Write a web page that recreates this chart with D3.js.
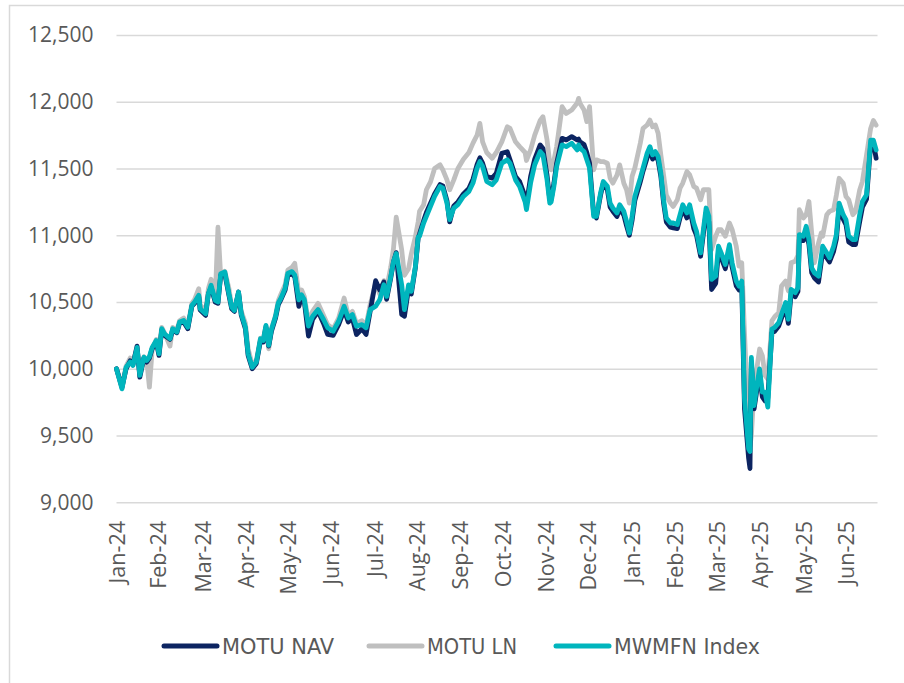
<!DOCTYPE html>
<html>
<head>
<meta charset="utf-8">
<script src="https://cdn.jsdelivr.net/npm/d3@7"></script>
<style>
  body { margin: 0; background: #fff; }
  svg { display: block; }
</style>
</head>
<body>
<div id="chart"></div>
<script>
;(function () {

    // Dates (x axis is one point per reading)
    var dates = [
        '2024-01-02','2024-01-06','2024-01-09','2024-01-12','2024-01-14','2024-01-17','2024-01-19','2024-01-22',
        '2024-01-24','2024-01-26','2024-01-28','2024-01-31','2024-02-02','2024-02-04','2024-02-06','2024-02-10',
        '2024-02-12','2024-02-15','2024-02-17','2024-02-20','2024-02-23','2024-02-26','2024-02-28','2024-03-02',
        '2024-03-03','2024-03-07','2024-03-09','2024-03-11','2024-03-14','2024-03-16','2024-03-18','2024-03-21',
        '2024-03-24','2024-03-26','2024-03-28','2024-03-31','2024-04-02','2024-04-05','2024-04-07','2024-04-10',
        '2024-04-13','2024-04-16','2024-04-18','2024-04-20','2024-04-22',
        '2024-04-24','2024-04-27','2024-04-29','2024-05-01','2024-05-04','2024-05-06','2024-05-09','2024-05-11',
        '2024-05-14','2024-05-16','2024-05-18','2024-05-21','2024-05-24','2024-05-28','2024-06-01','2024-06-04',
        '2024-06-08','2024-06-12','2024-06-16','2024-06-19','2024-06-22','2024-06-25','2024-06-29','2024-07-02',
        '2024-07-05','2024-07-09','2024-07-12','2024-07-15','2024-07-17','2024-07-20','2024-07-22','2024-07-24',
        '2024-07-28','2024-07-30','2024-08-02','2024-08-04','2024-08-07','2024-08-09',
        '2024-08-10','2024-08-13','2024-08-15','2024-08-18','2024-08-21','2024-08-25','2024-08-27','2024-08-30',
        '2024-09-01','2024-09-04','2024-09-07','2024-09-11','2024-09-15','2024-09-18','2024-09-21','2024-09-23',
        '2024-09-25','2024-09-28','2024-10-02','2024-10-05','2024-10-09','2024-10-13','2024-10-15','2024-10-19',
        '2024-10-22','2024-10-26','2024-10-27','2024-10-30','2024-11-02','2024-11-06','2024-11-08','2024-11-11',
        '2024-11-13','2024-11-14','2024-11-16','2024-11-18','2024-11-22','2024-11-25','2024-11-29','2024-12-03',
        '2024-12-04','2024-12-05','2024-12-08','2024-12-10','2024-12-12','2024-12-15','2024-12-17','2024-12-20',
        '2024-12-22','2024-12-25','2024-12-27','2024-12-29','2025-01-01','2025-01-03','2025-01-06','2025-01-08',
        '2025-01-10','2025-01-12','2025-01-14','2025-01-18','2025-01-20','2025-01-23','2025-01-25','2025-01-27',
        '2025-01-29','2025-01-31','2025-02-02','2025-02-04','2025-02-06','2025-02-09','2025-02-11','2025-02-14',
        '2025-02-16','2025-02-18','2025-02-21','2025-02-23','2025-02-26','2025-02-28','2025-03-03','2025-03-05',
        '2025-03-07','2025-03-09','2025-03-11','2025-03-14','2025-03-16','2025-03-18','2025-03-21','2025-03-24',
        '2025-03-26','2025-03-29','2025-03-31',
        '2025-04-02','2025-04-04','2025-04-07','2025-04-08','2025-04-09','2025-04-11','2025-04-13','2025-04-15',
        '2025-04-17','2025-04-19','2025-04-21','2025-04-24','2025-04-26','2025-04-29','2025-05-01','2025-05-04',
        '2025-05-06','2025-05-08','2025-05-11','2025-05-13','2025-05-14','2025-05-17','2025-05-19','2025-05-21',
        '2025-05-23','2025-05-25','2025-05-28','2025-05-30','2025-05-31','2025-06-03','2025-06-05','2025-06-08',
        '2025-06-10','2025-06-12','2025-06-15','2025-06-17','2025-06-19','2025-06-22','2025-06-24','2025-06-27',
        '2025-06-29','2025-07-02','2025-07-05','2025-07-07','2025-07-09'
    ];

    var motuNav = [
        10000, 9860,10000,10060,10030,10170, 9937,10080,10050,10080,10150,10200,10100,10290,10250,10220,
        10290,10270,10340,10350,10300,10470,10490,10540,10440,10400,10560,10610,10500,10490,10700,10710,
        10550,10450,10430,10575,10400,10300,10100,10000,10040,10210,10200,10310,10170,
        10280,10380,10480,10520,10590,10700,10710,10690,10468,10540,10500,10245,10370,10430,10340,10257,
        10250,10330,10440,10350,10380,10257,10300,10257,10430,10660,10590,10650,10520,10680,10800,10870,
        10406,10393,10600,10560,10760,10980,
        11010,11110,11170,11240,11310,11380,11370,11260,11100,11220,11250,11310,11350,11420,11530,11580,
        11540,11440,11428,11465,11614,11626,11565,11440,11403,11290,11230,11440,11570,11677,11650,11450,
        11266,11270,11390,11540,11726,11714,11739,11714,
        11720,11700,11680,11620,11540,11160,11130,11300,11390,11340,11210,11180,11140,11200,11150,11070,
        11000,11110,11260,11400,11480,11580,11640,11570,11600,11560,11440,11240,11100,11060,11055,11050,
        11130,11200,11130,11200,11050,11000,10843,11010,11170,11100,10594,10640,10870,10830,10750,10890,
        10760,10620,10590,
        10620, 9700, 9330, 9253,10050, 9700, 9840, 9960, 9790, 9760, 9780,10270,10280,10320,10380,10460,
        10340,10560,10540,10580,10970,10960,11030,10930,10720,10680,10650,10800,10880,10830,10800,10880,
        10970,11200,11120,11080,10950,10930,10930,11100,11210,11270,11680,11690,11577
    ];

    var motuLn = [
        10000, 9870,10020,10080,10060,10150, 9960,10090,10070, 9862,10140,10220,10150,10310,10270,10170,
        10310,10290,10360,10380,10320,10490,10520,10600,10480,10430,10600,10670,10520,11060,10690,10730,
        10600,10470,10440,10560,10430,10340,10150,10030,10060,10230,10220,10320,10150,
        10300,10400,10510,10560,10630,10740,10760,10790,10560,10590,10540,10350,10430,10490,10400,10330,
        10300,10380,10530,10400,10430,10340,10360,10320,10480,10640,10560,10660,10600,10760,10900,11136,
        10890,10700,10750,10860,10990,11100,
        11180,11229,11341,11400,11500,11528,11490,11415,11341,11415,11500,11570,11620,11690,11751,11838,
        11700,11620,11577,11620,11700,11813,11801,11700,11664,11620,11560,11640,11750,11860,11888,11714,
        11540,11490,11560,11664,11963,11913,11938,11990,
        12025,11988,11938,11851,11963,11490,11565,11552,11552,11540,11428,11390,11450,11527,11390,11341,
        11241,11440,11503,11689,11801,11826,11863,11813,11826,11764,11600,11450,11300,11241,11216,11266,
        11353,11391,11478,11453,11366,11353,11266,11341,11341,11341,10893,10993,11042,11042,10993,11092,
        11042,10918,10769,
        10794,10272, 9551, 9420, 9500, 9849,10000,10148,10098, 9949, 9924,10359,10390,10421,10620,10657,
        10583,10794,10806,10850,11191,11129,11154,11253,11017,10794,10943,11017,10993,11154,11179,11191,
        11300,11427,11390,11291,11266,11154,11179,11340,11403,11600,11800,11860,11825
    ];

    var mwmfnIndex = [
        10000, 9850,10012,10050,10025,10160, 9950,10087,10062,10090,10160,10212,10112,10300,10262,10225,
        10300,10275,10350,10362,10312,10475,10500,10550,10450,10412,10562,10625,10512,10500,10712,10725,
        10562,10462,10437,10575,10412,10312,10112,10012,10050,10225,10212,10325,10175,
        10294,10393,10493,10530,10604,10716,10728,10703,10517,10554,10517,10320,10393,10443,10369,10307,
        10282,10356,10468,10381,10406,10319,10331,10307,10443,10468,10517,10629,10542,10690,10802,10864,
        10629,10443,10629,10580,10765,10988,
        10993,11092,11142,11216,11291,11366,11353,11241,11117,11204,11229,11291,11328,11391,11503,11552,
        11515,11403,11378,11415,11540,11565,11540,11415,11366,11250,11192,11391,11528,11627,11602,11415,
        11241,11250,11366,11515,11677,11664,11689,11639,
        11677,11652,11627,11565,11503,11142,11142,11316,11403,11366,11241,11204,11167,11229,11179,11104,
        11017,11142,11291,11428,11503,11615,11664,11602,11627,11590,11465,11266,11129,11092,11092,11080,
        11154,11229,11167,11229,11092,11030,10868,11042,11204,11142,10669,10694,10918,10868,10781,10930,
        10793,10657,10619,
        10657, 9775, 9402, 9380,10085, 9725, 9874, 9999, 9825, 9825, 9713,10297,10309,10346,10409,10496,
        10371,10595,10570,10607,11005,10993,11067,10968,10756,10719,10694,10843,10918,10868,10831,10918,
        11005,11241,11154,11117,10993,10968,10968,11154,11253,11303,11713,11713,11639
    ];

    // Where the axis labels sit (the source axis labels every ~22 trading days)
    var tickDates = [
        '2024-01-02','2024-02-01','2024-03-05','2024-04-05','2024-05-06','2024-06-06','2024-07-08',
        '2024-08-08','2024-09-08','2024-10-10','2024-11-10','2024-12-11','2025-01-12','2025-02-12',
        '2025-03-15','2025-04-15','2025-05-17','2025-06-17'
    ];
    var xDomain = ['2024-01-02', '2025-07-10'];
    var yTicks = [9000, 9500, 10000, 10500, 11000, 11500, 12000, 12500];

    var seriesNames = ['MOTU NAV', 'MOTU LN', 'MWMFN Index'];
    var seriesColors = ['#0c2461', '#bfbfbf', '#00b5bd'];

    var W = 904, H = 683;
    var parse = d3.timeParse('%Y-%m-%d');
    var fmtTick = d3.timeFormat('%b-%y');
    var axisFont = '"Open Sans", "Liberation Sans", sans-serif';
    var legendFont = '"Liberation Sans Narrow", "DejaVu Sans Condensed", sans-serif';

    var svg = d3.select('#chart').append('svg')
        .attr('width', W)
        .attr('height', H);

    // outer chart border (only top and left are inside the crop)
    svg.append('rect')
        .attr('x', 9.5).attr('y', 5.5)
        .attr('width', W + 20).attr('height', H + 20)
        .attr('fill', 'none')
        .attr('stroke', '#d9d9d9')
        .attr('stroke-width', 1.5);

    var x = d3.scaleTime()
        .domain(xDomain.map(parse))
        .range([116.5, 877.5]);

    var y = d3.scaleLinear()
        .domain([9000, 12500])
        .range([502.3, 35]);

    // gridlines + y labels
    var yAxis = d3.axisLeft(y)
        .tickValues(yTicks)
        .tickSize(-(877.5 - 116.5))
        .tickPadding(23)
        .tickFormat(d3.format(','));

    var gy = svg.append('g')
        .attr('transform', 'translate(116.5,0)')
        .call(yAxis);
    gy.select('.domain').remove();
    gy.selectAll('.tick line')
        .attr('stroke', '#d9d9d9')
        .attr('stroke-width', 1.5);
    gy.selectAll('.tick text')
        .attr('fill', '#595959')
        .style('font-family', axisFont)
        .style('font-size', '21px');

    // x labels, rotated
    var xAxis = d3.axisBottom(x)
        .tickValues(tickDates.map(parse))
        .tickSize(0)
        .tickFormat(fmtTick);

    var gx = svg.append('g')
        .attr('transform', 'translate(0,' + 521 + ')')
        .call(xAxis);
    gx.select('.domain').remove();
    gx.selectAll('.tick text')
        .attr('fill', '#595959')
        .style('font-family', axisFont)
        .style('font-size', '21.5px')
        .attr('text-anchor', 'end')
        .attr('transform', 'rotate(-90)')
        .attr('x', 0)
        .attr('y', 0)
        .attr('dy', '0.36em');

    // lines: grey first, then navy, then cyan on top
    var parsed = dates.map(parse);
    var allSeries = [motuNav, motuLn, mwmfnIndex];
    var drawOrder = [1, 0, 2];

    var line = d3.line()
        .x(function (d, i) { return x(parsed[i]); })
        .y(function (d) { return y(d); })
        .curve(d3.curveLinear);

    drawOrder.forEach(function (k) {
        svg.append('path')
            .datum(allSeries[k])
            .attr('d', line)
            .attr('fill', 'none')
            .attr('stroke', seriesColors[k])
            .attr('stroke-width', 4.8)
            .attr('stroke-linejoin', 'round')
            .attr('stroke-linecap', 'round');
    });

    // legend
    var legendX = [164, 369, 556];
    var legendW = [112, 90, 146];
    var legend = svg.append('g');
    seriesNames.forEach(function (name, k) {
        legend.append('line')
            .attr('x1', legendX[k]).attr('x2', legendX[k] + 53)
            .attr('y1', 646).attr('y2', 646)
            .attr('stroke', seriesColors[k])
            .attr('stroke-width', 5)
            .attr('stroke-linecap', 'round');
        legend.append('text')
            .attr('x', legendX[k] + 58)
            .attr('y', 654)
            .attr('fill', '#595959')
            .attr('textLength', legendW[k])
            .attr('lengthAdjust', 'spacingAndGlyphs')
            .style('font-family', legendFont)
            .style('font-size', '22px')
            .text(name);
    });

})();
</script>
</body>
</html>
